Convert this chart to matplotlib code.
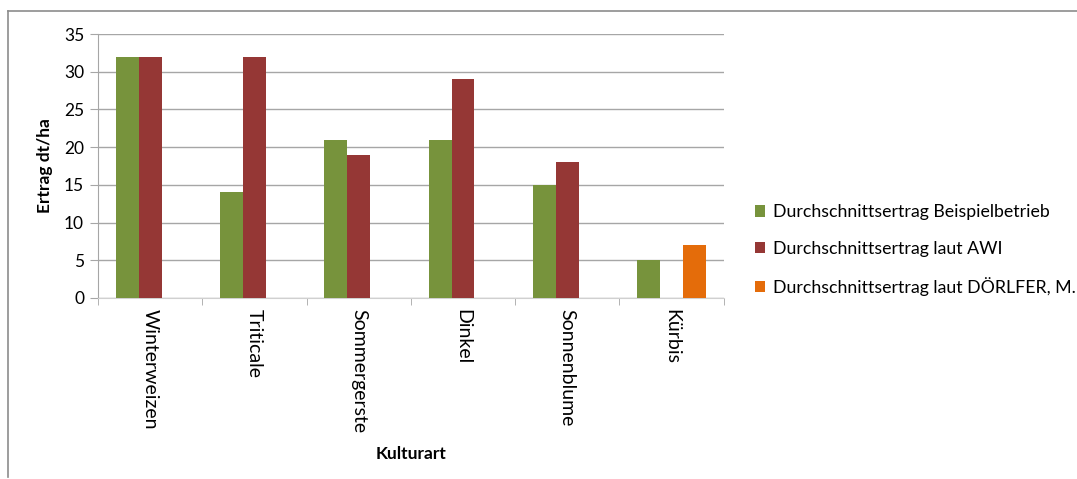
import numpy as np
import matplotlib.pyplot as plt
from matplotlib.lines import Line2D

# Ertragsvergleich je Kulturart
kulturen = ['Winterweizen', 'Triticale', 'Sommergerste', 'Dinkel', 'Sonnenblume', 'Kürbis']
beispielbetrieb = [32, 14, 21, 21, 15, 5]
laut_awi = [32, 32, 19, 29, 18, np.nan]
laut_doerlfer = [np.nan, np.nan, np.nan, np.nan, np.nan, 7]

serien = [
    ('Durchschnittsertrag Beispielbetrieb', beispielbetrieb, '#77933C'),
    ('Durchschnittsertrag laut AWI', laut_awi, '#953735'),
    ('Durchschnittsertrag laut DÖRLFER, M.', laut_doerlfer, '#E46C0A'),
]

plt.rcParams['font.family'] = ['Lato', 'DejaVu Sans']

fig = plt.figure(figsize=(10.77, 4.79), dpi=100)
ax = fig.add_axes([0.091, 0.378, 0.581, 0.551])

x = np.arange(len(kulturen))
breite = 0.22
for i, (name, werte, farbe) in enumerate(serien):
    ax.bar(x + (i - 1) * breite, werte, breite, color=farbe, label=name, zorder=3)

ax.set_xlim(-0.5, len(kulturen) - 0.5)
ax.set_ylim(0, 35)
ax.set_yticks(range(0, 36, 5))
ax.grid(axis='y', color='#a6a6a6', linewidth=1.0, zorder=0)

ax.set_xticks(x)
ax.set_xticklabels(kulturen, rotation=270, fontsize=14)
ax.set_xticks(np.arange(-0.5, len(kulturen)), minor=True)
ax.tick_params(axis='x', which='major', length=0, pad=8)
ax.tick_params(axis='x', which='minor', length=5, color='#a6a6a6')
ax.tick_params(axis='y', length=6, color='#a6a6a6', labelsize=12.5, pad=4)

for side in ['top', 'right']:
    ax.spines[side].set_visible(False)
ax.spines['left'].set_color('#a6a6a6')
ax.spines['bottom'].set_color('#d0d0d0')

ax.set_ylabel('Ertrag dt/ha', fontsize=12.5, fontweight='bold')
ax.yaxis.set_label_coords(-0.072, 0.5)
ax.set_xlabel('Kulturart', fontsize=12.5, fontweight='bold')
ax.xaxis.set_label_coords(0.5, -0.562)

fig.legend(loc='center left', bbox_to_anchor=(0.686, 0.478), frameon=False,
           fontsize=12.8, handlelength=0.6, handleheight=0.6, handletextpad=0.4,
           labelspacing=1.15)

# Diagrammrahmen (oben und links)
fig.add_artist(Line2D([8 / 1077, 1], [1 - 11 / 479, 1 - 11 / 479],
                      transform=fig.transFigure, color='#8c8c8c', linewidth=1.2))
fig.add_artist(Line2D([8 / 1077, 8 / 1077], [1 - 11 / 479, 2 / 479],
                      transform=fig.transFigure, color='#8c8c8c', linewidth=1.2))

fig.savefig('out.png', dpi=100)
